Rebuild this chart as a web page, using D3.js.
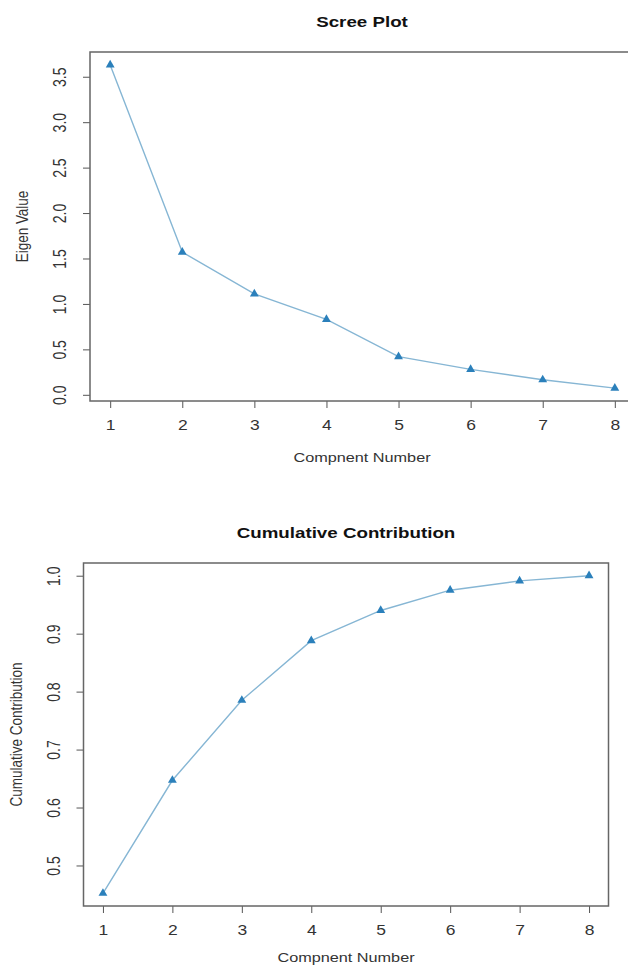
<!DOCTYPE html>
<html>
<head>
<meta charset="utf-8">
<script src="https://cdn.jsdelivr.net/npm/d3@7"></script>
<style>
    body { margin: 0; background: #fff; }
    svg { display: block; font-family: "Liberation Sans", Arial, sans-serif; }
</style>
</head>
<body>
<div id="canvas"></div>
<script>
// datos
var componentes = [1, 2, 3, 4, 5, 6, 7, 8];
var valoresPropios = [3.63, 1.57, 1.11, 0.83, 0.42, 0.28, 0.165, 0.074];
var contribucion = [0.452, 0.647, 0.785, 0.888, 0.940, 0.975, 0.991, 1.0];
var ticksEigen = [0, 0.5, 1, 1.5, 2, 2.5, 3, 3.5];
var ticksContrib = [0.5, 0.6, 0.7, 0.8, 0.9, 1.0];

var estirar = 1.25; // la imagen original esta ensanchada

var svg = d3.select("#canvas").append("svg")
    .attr("width", 628)
    .attr("height", 967);

function crearGrafica(o) {
    var datos = componentes.map(function(c, i) { return { c: c, v: o.valores[i] }; });

    // margen del 4% como en R
    var ext = d3.extent(datos, function(d) { return d.v; });
    var pad = (ext[1] - ext[0]) * 0.04;

    var x = d3.scaleLinear()
        .domain([1 - 0.28, 8 + 0.28])
        .range([o.left, o.right]);

    var y = d3.scaleLinear()
        .domain([ext[0] - pad, ext[1] + pad])
        .range([o.bottom, o.top]);

    var g = svg.append("g");

    // eje x
    var ejeX = g.append("g")
        .attr("transform", "translate(0," + o.bottom + ")")
        .call(d3.axisBottom(x).tickValues(componentes).tickSize(7).tickFormat(d3.format("d")));
    ejeX.select(".domain").remove();
    ejeX.selectAll("line").attr("stroke", "#555");
    ejeX.selectAll("text")
        .attr("y", 24)
        .attr("dy", "0.35em")
        .attr("transform", "scale(" + estirar + ",1)")
        .attr("font-size", 14)
        .attr("fill", "#333");

    // eje y
    var ejeY = g.append("g")
        .attr("transform", "translate(" + o.left + ",0)")
        .call(d3.axisLeft(y).tickValues(o.ticks).tickSize(7).tickFormat(d3.format(".1f")));
    ejeY.select(".domain").remove();
    ejeY.selectAll("line").attr("stroke", "#555");
    ejeY.selectAll("text")
        .attr("x", 0)
        .attr("y", -19)
        .attr("dy", 0)
        .attr("text-anchor", "middle")
        .attr("transform", "scale(" + estirar + ",1) rotate(-90)")
        .attr("font-size", 14)
        .attr("fill", "#333");

    // caja
    g.append("rect")
        .attr("x", o.left)
        .attr("y", o.top)
        .attr("width", o.right - o.left)
        .attr("height", o.bottom - o.top)
        .attr("fill", "none")
        .attr("stroke", "#666")
        .attr("stroke-width", 1.5);

    var linea = d3.line()
        .x(function(d) { return x(d.c); })
        .y(function(d) { return y(d.v); });

    g.append("path")
        .datum(datos)
        .attr("d", linea)
        .attr("fill", "none")
        .attr("stroke", "#86b6d4")
        .attr("stroke-width", 1.4);

    g.selectAll(".punto")
        .data(datos)
        .enter().append("path")
        .attr("class", "punto")
        .attr("d", d3.symbol(d3.symbolTriangle, 34))
        .attr("transform", function(d) { return "translate(" + x(d.c) + "," + y(d.v) + ")"; })
        .attr("fill", "#2b80bb");

    var cx = (o.left + Math.min(o.right, 628)) / 2;
    if (o.cx) cx = o.cx;

    g.append("text")
        .attr("transform", "translate(" + cx + "," + (o.top - 30) + ") scale(" + estirar + ",1)")
        .attr("text-anchor", "middle")
        .attr("dy", "0.35em")
        .attr("font-size", 15)
        .attr("font-weight", "bold")
        .attr("fill", "#111")
        .text(o.titulo);

    g.append("text")
        .attr("transform", "translate(" + cx + "," + (o.bottom + o.bajoEje) + ") scale(" + estirar + ",1)")
        .attr("text-anchor", "middle")
        .attr("dy", "0.35em")
        .attr("font-size", 13)
        .attr("fill", "#333")
        .text("Compnent Number");

    g.append("text")
        .attr("transform", "translate(" + (o.left - 62) + "," + ((o.top + o.bottom) / 2) + ") scale(" + estirar + ",1) rotate(-90)")
        .attr("text-anchor", "middle")
        .attr("font-size", 13.5)
        .attr("fill", "#333")
        .text(o.etiquetaY);
}

crearGrafica({
    titulo: "Scree Plot",
    etiquetaY: "Eigen Value",
    valores: valoresPropios,
    ticks: ticksEigen,
    left: 90, right: 635, top: 52, bottom: 401,
    cx: 362, bajoEje: 56
});

crearGrafica({
    titulo: "Cumulative Contribution",
    etiquetaY: "Cumulative Contribution",
    valores: contribucion,
    ticks: ticksContrib,
    left: 83.5, right: 608.5, top: 563, bottom: 906,
    bajoEje: 51
});
</script>
</body>
</html>
